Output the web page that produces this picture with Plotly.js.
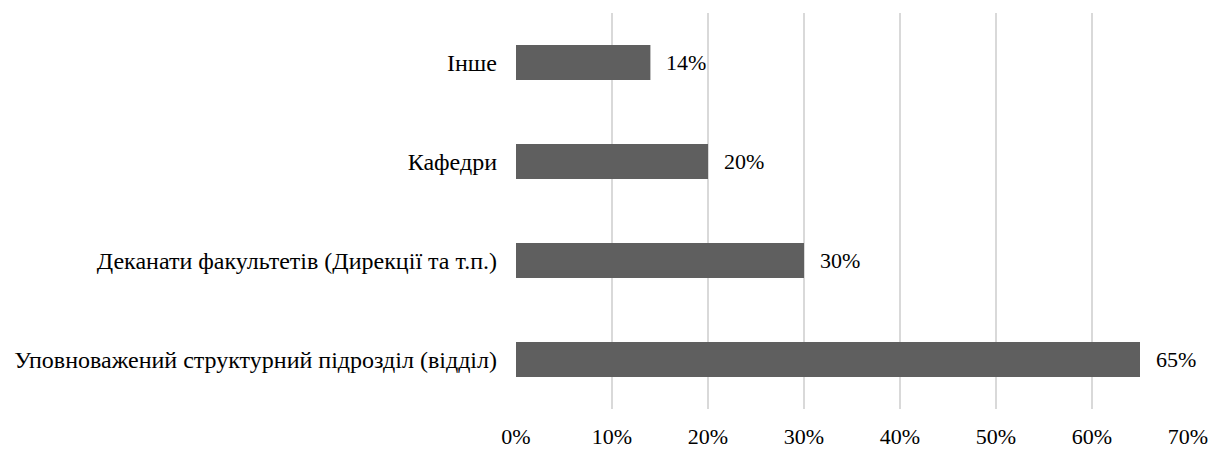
<!DOCTYPE html>
<html>
<head>
<meta charset="utf-8">
<script src="https://cdn.plot.ly/plotly-3.0.1.min.js"></script>
<style>html,body{margin:0;padding:0;background:#fff;}#chart{width:1211px;height:450px;}</style>
</head>
<body>
<div id="chart"></div>
<script>
const categories = [
  "Уповноважений структурний підрозділ (відділ)",
  "Деканати факультетів (Дирекції та т.п.)",
  "Кафедри",
  "Інше"
];
const values = [65, 30, 20, 14];
const valueLabels = ["65%", "30%", "20%", "14%"];
const tickVals = [0, 10, 20, 30, 40, 50, 60, 70];
const tickText = ["0%", "10%", "20%", "30%", "40%", "50%", "60%", "70%"];

const fontFamily = "Liberation Serif, Times New Roman, serif";

const trace = {
  type: "bar",
  orientation: "h",
  y: categories,
  x: values,
  marker: {color: "#5f5f5f"},
  hoverinfo: "none"
};

const annotations = categories.map((c, i) => ({
  x: values[i], y: c, xref: "x", yref: "y",
  text: valueLabels[i], showarrow: false,
  xanchor: "left", yanchor: "middle", xshift: 14,
  font: {family: fontFamily, size: 22, color: "#000"}
}));

const layout = {
  width: 1211, height: 450,
  margin: {l: 516, r: 23, t: 13, b: 41},
  paper_bgcolor: "#fff", plot_bgcolor: "#fff",
  bargap: 0.645,
  showlegend: false,
  font: {family: fontFamily, size: 22, color: "#000"},
  xaxis: {
    range: [0, 70],
    tickvals: tickVals, ticktext: tickText,
    showgrid: true, gridcolor: "#d9d9d9", gridwidth: 2,
    zeroline: false, showline: false, ticks: "",
    ticklabelstandoff: 12,
    tickfont: {family: fontFamily, size: 22, color: "#000"},
    fixedrange: true
  },
  yaxis: {
    type: "category",
    showgrid: false, zeroline: false, showline: false, ticks: "",
    ticklabelstandoff: 18,
    tickfont: {family: fontFamily, size: 24, color: "#000"},
    fixedrange: true
  },
  annotations: annotations
};

Plotly.newPlot("chart", [trace], layout, {displayModeBar: false, staticPlot: true});
</script>
</body>
</html>
